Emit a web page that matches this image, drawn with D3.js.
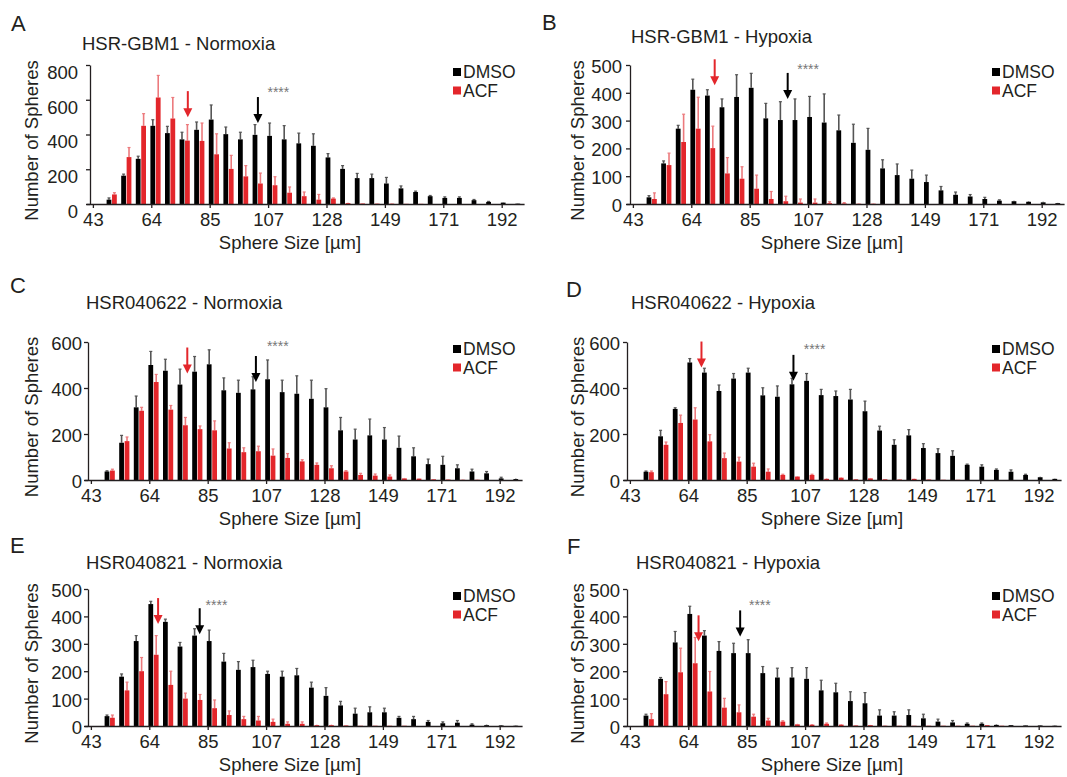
<!DOCTYPE html>
<meta charset="utf-8">
<html lang="en">
<head>
<title>Sphere size distributions</title>
<style>
  body { margin: 0; background: #fff; }
  svg text { font-family: "Liberation Sans", Arial, sans-serif; fill: #231f20; }
  .axis path, .axis line { stroke: #231f20; stroke-width: 1.3; }
</style>
</head>
<body>
<div id="chart"></div>
<script src="https://d3js.org/d3.v7.min.js"></script>
<script>
// bin labels (sphere size, um) and the labelled ticks
const sizeBins = [43, 48, 53, 59, 64, 69, 75, 80, 85, 91, 96, 101, 107, 112, 117,
                  123, 128, 133, 139, 144, 149, 155, 160, 165, 171, 176, 181, 187, 192, 197];
const tickSizes = [43, 64, 85, 107, 128, 149, 171, 192];
const seriesNames = ["DMSO", "ACF"];

const panelLetters = ["A", "B", "C", "D", "E", "F"];
const panelTitles = ["HSR-GBM1 - Normoxia", "HSR-GBM1 - Hypoxia", "HSR040622 - Normoxia",
                     "HSR040622 - Hypoxia", "HSR040821 - Normoxia", "HSR040821 - Hypoxia"];
const yMax  = [800, 500, 600, 600, 500, 500];
const yStep = [200, 100, 200, 200, 100, 100];

// A: HSR-GBM1 normoxia
const dmsoA   = [0, 25, 163, 260, 450, 408, 372, 427, 486, 402, 372, 398, 392, 372, 349, 335, 268, 202, 149, 149, 118, 90, 69, 45, 35, 35, 22, 12, 8, 2];
const dmsoSdA = [0, 10, 9, 15, 35, 39, 41, 45, 84, 41, 41, 59, 74, 79, 59, 69, 22, 19, 27, 23, 35, 14, 5, 4, 6, 6, 4, 3, 2, 1];
const acfA    = [0, 55, 270, 450, 613, 492, 365, 363, 286, 202, 159, 118, 108, 65, 45, 25, 31, 5, 3, 2, 2, 1, 1, 0, 0, 0, 0, 0, 0, 0];
const acfSdA  = [0, 10, 55, 70, 127, 121, 92, 103, 118, 78, 62, 60, 49, 33, 24, 30, 4, 2, 1, 1, 1, 0, 0, 0, 0, 0, 0, 0, 0, 0];
// B: HSR-GBM1 hypoxia
const dmsoB   = [0, 24, 146, 271, 411, 390, 348, 385, 418, 308, 302, 302, 313, 293, 265, 220, 195, 128, 104, 91, 79, 49, 33, 27, 18, 12, 10, 8, 6, 3];
const dmsoSdB = [0, 6, 9, 12, 38, 21, 30, 80, 52, 54, 66, 76, 74, 103, 55, 67, 77, 31, 40, 31, 25, 14, 10, 7, 6, 3, 2, 2, 2, 1];
const acfB    = [0, 18, 140, 223, 271, 201, 110, 91, 55, 18, 10, 5, 5, 3, 2, 1, 1, 0, 0, 0, 0, 0, 0, 0, 0, 0, 0, 0, 0, 0];
const acfSdB  = [0, 22, 43, 100, 113, 79, 57, 43, 49, 27, 18, 13, 13, 5, 3, 1, 1, 0, 0, 0, 0, 0, 0, 0, 0, 0, 0, 0, 0, 0];
// C: HSR040622 normoxia
const dmsoC   = [0, 37, 162, 316, 500, 475, 415, 471, 503, 390, 379, 394, 438, 382, 375, 353, 316, 216, 176, 194, 176, 140, 103, 69, 66, 51, 37, 29, 7, 4];
const dmsoSdC = [0, 3, 32, 49, 59, 50, 67, 66, 63, 54, 55, 55, 84, 52, 78, 81, 81, 56, 45, 71, 52, 51, 37, 22, 37, 15, 10, 8, 5, 2];
const acfC    = [0, 41, 169, 301, 426, 306, 238, 221, 216, 137, 121, 125, 106, 96, 81, 66, 51, 37, 22, 19, 15, 7, 6, 3, 2, 1, 1, 0, 0, 0];
const acfSdC  = [0, 6, 18, 15, 33, 18, 34, 14, 41, 25, 19, 22, 29, 19, 7, 8, 11, 4, 7, 7, 7, 2, 2, 1, 1, 1, 1, 0, 0, 0];
// D: HSR040622 hypoxia
const dmsoD   = [0, 36, 190, 309, 511, 467, 387, 441, 467, 368, 362, 416, 431, 369, 365, 350, 299, 215, 153, 194, 139, 117, 105, 66, 58, 44, 36, 22, 12, 5];
const dmsoSdD = [0, 3, 26, 5, 17, 19, 26, 22, 19, 33, 47, 26, 32, 25, 22, 44, 44, 19, 22, 25, 19, 19, 22, 3, 8, 4, 8, 3, 2, 1];
const acfD    = [0, 34, 153, 248, 263, 168, 95, 80, 58, 36, 22, 15, 22, 5, 10, 3, 7, 3, 2, 5, 2, 1, 1, 0, 0, 0, 0, 0, 0, 0];
const acfSdD  = [0, 5, 12, 34, 51, 29, 22, 19, 15, 12, 3, 2, 3, 2, 2, 1, 2, 1, 1, 1, 1, 0, 0, 0, 0, 0, 0, 0, 0, 0];
// E: HSR040821 normoxia
const dmsoE   = [0, 36, 180, 310, 445, 380, 290, 330, 310, 235, 205, 215, 190, 180, 185, 140, 110, 75, 45, 50, 50, 30, 25, 15, 10, 12, 5, 3, 2, 1];
const dmsoSdE = [0, 4, 10, 20, 10, 10, 15, 25, 40, 30, 30, 25, 10, 20, 25, 20, 30, 15, 20, 20, 15, 5, 10, 5, 5, 8, 3, 2, 2, 1];
const acfE    = [0, 30, 130, 200, 260, 150, 100, 95, 65, 40, 25, 20, 15, 8, 8, 3, 3, 2, 1, 1, 1, 1, 0, 0, 0, 0, 0, 0, 0, 0];
const acfSdE  = [0, 10, 30, 50, 70, 50, 20, 20, 30, 15, 10, 15, 10, 7, 7, 2, 2, 1, 0, 0, 0, 0, 0, 0, 0, 0, 0, 0, 0, 0];
// F: HSR040821 hypoxia
const dmsoF   = [0, 38, 172, 305, 409, 330, 274, 266, 266, 193, 177, 177, 172, 130, 123, 91, 83, 38, 38, 40, 28, 16, 13, 8, 8, 4, 3, 2, 2, 1];
const dmsoSdF = [0, 5, 5, 40, 28, 18, 34, 36, 49, 24, 34, 36, 41, 37, 33, 34, 39, 21, 14, 19, 15, 9, 7, 3, 3, 2, 1, 1, 1, 1];
const acfF    = [0, 25, 116, 196, 229, 126, 67, 50, 34, 20, 16, 6, 5, 8, 5, 2, 3, 1, 1, 1, 1, 1, 1, 1, 3, 1, 0, 0, 0, 0];
const acfSdF  = [0, 20, 46, 88, 94, 73, 34, 27, 9, 8, 3, 2, 2, 3, 2, 1, 1, 1, 0, 0, 0, 0, 0, 0, 0, 0, 0, 0, 0, 0];

// mean-size arrows (position in bins, tip height in counts) and the **** mark
const acfArrowBin   = [6.4, 5.5, 6.5, 4.8, 4.5, 4.6];
const acfArrowTip   = [500, 427, 463, 489, 372, 309];
const dmsoArrowBin  = [11.2, 10.5, 11.2, 11.1, 7.35, 7.45];
const dmsoArrowTip  = [466, 378, 426, 431, 335, 327];
const starBin   = [12.6, 11.9, 12.7, 12.55, 8.5, 8.8];
const starValue = [662, 496, 596, 581, 454, 451];

const dmsoAll = [dmsoA, dmsoB, dmsoC, dmsoD, dmsoE, dmsoF];
const dmsoSdAll = [dmsoSdA, dmsoSdB, dmsoSdC, dmsoSdD, dmsoSdE, dmsoSdF];
const acfAll = [acfA, acfB, acfC, acfD, acfE, acfF];
const acfSdAll = [acfSdA, acfSdB, acfSdC, acfSdD, acfSdE, acfSdF];

const RED = "#e3262b";
const colors = { DMSO: "#000000", ACF: RED };
const errColors = { DMSO: "#555555", ACF: "#ec7a7d" };

// panel placement on the page
const layout = [
  { ax: 90,  top: 65,  base: 204, tx: 82,  ty: 50,  lx: 11,  ly: 31,  labDy: 7,  labGap: 12 },
  { ax: 630, top: 65,  base: 204, tx: 631, ty: 43,  lx: 542, ly: 30,  labDy: 1,  labGap: 8 },
  { ax: 88,  top: 342, base: 480, tx: 86,  ty: 309, lx: 10,  ly: 293, labDy: 1,  labGap: 6 },
  { ax: 627, top: 342, base: 480, tx: 631, ty: 309, lx: 566, ly: 297, labDy: 1,  labGap: 7 },
  { ax: 88,  top: 589, base: 726, tx: 86,  ty: 569, lx: 10,  ly: 553, labDy: 1,  labGap: 6 },
  { ax: 627, top: 589, base: 726, tx: 636, ty: 569, lx: 567, ly: 554, labDy: 1,  labGap: 7 }
];

const STEP = 14.6;
const FS = 18.5;

const svg = d3.select("#chart").append("svg")
    .attr("width", 1067)
    .attr("height", 777);

layout.forEach(function (L, p) {
  const g = svg.append("g");
  const left = p % 2 === 0;

  const xGroup = d3.scaleBand()
      .domain(sizeBins)
      .range([L.ax + 1, L.ax + 1 + sizeBins.length * STEP]);
  const xSeries = d3.scaleBand()
      .domain(seriesNames)
      .range([1.0, 11.2])
      .paddingInner(0.12);
  const y = d3.scaleLinear()
      .domain([0, yMax[p]])
      .range([L.base, L.top]);

  // position of a fractional bin (at DMSO bar centre)
  const xAt = function (b) { return L.ax + 1 + b * STEP + xSeries("DMSO") + xSeries.bandwidth() / 2; };

  const rows = sizeBins.map(function (s, i) {
    return {
      size: s,
      vals: [
        { key: "DMSO", v: dmsoAll[p][i], sd: dmsoSdAll[p][i] },
        { key: "ACF",  v: acfAll[p][i],  sd: acfSdAll[p][i] }
      ]
    };
  });

  // bars
  const grp = g.selectAll(".grp").data(rows).enter().append("g")
      .attr("transform", d => "translate(" + xGroup(d.size) + ",0)");

  grp.selectAll(".err").data(d => d.vals.filter(e => e.sd > 0)).enter().append("line")
      .attr("x1", d => xSeries(d.key) + xSeries.bandwidth() / 2)
      .attr("x2", d => xSeries(d.key) + xSeries.bandwidth() / 2)
      .attr("y1", d => y(d.v))
      .attr("y2", d => y(d.v + d.sd))
      .attr("stroke", d => errColors[d.key])
      .attr("stroke-width", 1.6);
  grp.selectAll(".cap").data(d => d.vals.filter(e => e.sd > 2)).enter().append("line")
      .attr("x1", d => xSeries(d.key) + xSeries.bandwidth() / 2 - 1.5)
      .attr("x2", d => xSeries(d.key) + xSeries.bandwidth() / 2 + 1.5)
      .attr("y1", d => y(d.v + d.sd))
      .attr("y2", d => y(d.v + d.sd))
      .attr("stroke", d => errColors[d.key])
      .attr("stroke-width", 1.2);
  grp.selectAll(".bar").data(d => d.vals).enter().append("rect")
      .attr("x", d => xSeries(d.key))
      .attr("width", xSeries.bandwidth())
      .attr("y", d => y(d.v))
      .attr("height", d => L.base - y(d.v))
      .attr("fill", d => colors[d.key]);

  // x axis (ticks sit on the DMSO bar)
  const shift = xSeries("DMSO") + xSeries.bandwidth() / 2 - xGroup.bandwidth() / 2;
  const xAxis = g.append("g")
      .attr("class", "axis")
      .attr("transform", "translate(" + (shift - 1) + "," + L.base + ")")
      .call(d3.axisBottom(xGroup).tickValues(tickSizes).tickSize(4).tickSizeOuter(0).tickPadding(3));
  xAxis.selectAll("text").style("font-size", FS + "px").attr("dy", "0.8em");

  // y axis
  const yAxis = g.append("g")
      .attr("class", "axis")
      .attr("transform", "translate(" + L.ax + ",0)")
      .call(d3.axisLeft(y).tickValues(d3.range(0, yMax[p] + 1, yStep[p])).tickSize(4).tickSizeOuter(0).tickPadding(L.labGap - 4));
  yAxis.selectAll("text").style("font-size", FS + "px").attr("dy", (0.35 + L.labDy / FS) + "em");

  // titles
  g.append("text").attr("x", L.lx).attr("y", L.ly).text(panelLetters[p]).style("font-size", "22px");
  g.append("text").attr("x", L.tx).attr("y", L.ty).text(panelTitles[p]).style("font-size", "18.5px");
  g.append("text")
      .attr("transform", "translate(" + (left ? 38 : 584) + "," + ((L.top + L.base) / 2 + 6) + ")rotate(-90)")
      .attr("text-anchor", "middle")
      .style("font-size", FS + "px")
      .text("Number of Spheres");
  g.append("text")
      .attr("x", left ? 290 : 832)
      .attr("y", L.base + 45)
      .attr("text-anchor", "middle")
      .style("font-size", FS + "px")
      .text("Sphere Size [\u00b5m]");

  // legend
  const lg = g.append("g").attr("transform", "translate(" + (left ? 453 : 992) + "," + (L.top + 13) + ")");
  seriesNames.forEach(function (s, k) {
    lg.append("rect").attr("x", 0).attr("y", k * 18.5 - 10).attr("width", 8).attr("height", 8).attr("fill", colors[s]);
    lg.append("text").attr("x", 10).attr("y", k * 18.5).style("font-size", "17.5px").text(s);
  });

  // mean arrows
  function arrow(b, tip, col) {
    const ax = xAt(b), ty = y(tip);
    g.append("line").attr("x1", ax).attr("x2", ax).attr("y1", ty - 26).attr("y2", ty - 7)
        .attr("stroke", col).attr("stroke-width", 2);
    g.append("path").attr("d", "M" + (ax - 4.5) + "," + (ty - 9) + "L" + (ax + 4.5) + "," + (ty - 9) + "L" + ax + "," + ty + "Z")
        .attr("fill", col);
  }
  arrow(acfArrowBin[p], acfArrowTip[p], RED);
  arrow(dmsoArrowBin[p], dmsoArrowTip[p], "#000");

  g.append("text")
      .attr("x", xAt(starBin[p]))
      .attr("y", y(starValue[p]) + 8)
      .attr("text-anchor", "middle")
      .style("font-size", "14px")
      .style("fill", "#777")
      .text("****");
});
</script>
</body>
</html>
